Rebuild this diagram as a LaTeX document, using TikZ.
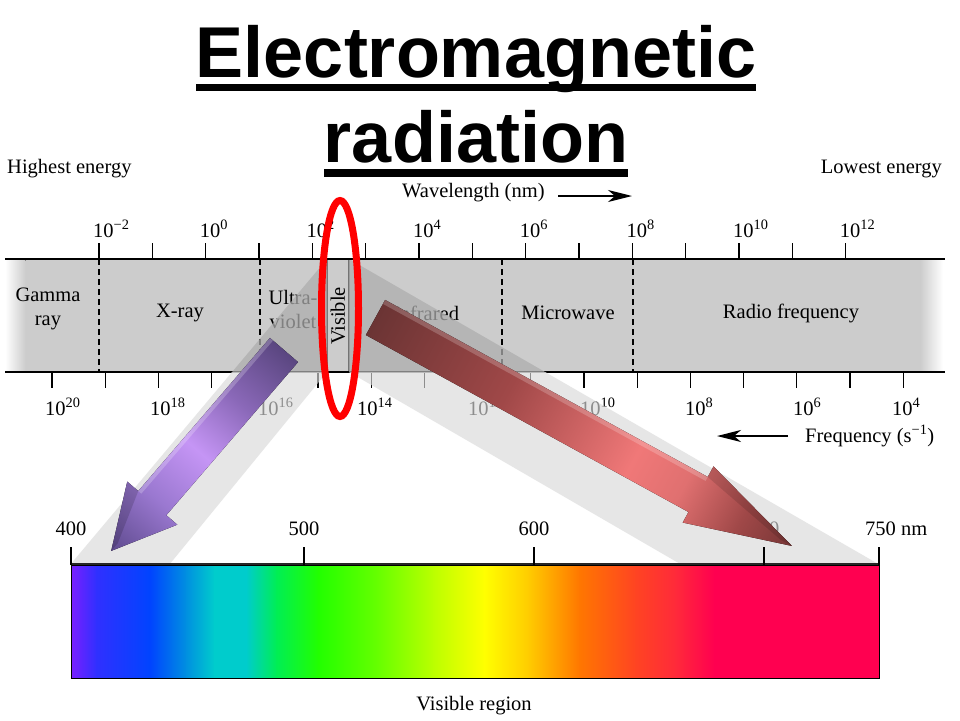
\documentclass[tikz,border=0pt]{standalone}
\usepackage{fontspec}
\setmainfont{Liberation Serif}
\newfontfamily\titlefont{Liberation Sans}
\usetikzlibrary{arrows.meta}
\definecolor{bandgray}{gray}{0.8}
\definecolor{s0}{HTML}{7A1FFF}
\definecolor{s1}{HTML}{3030FF}
\definecolor{s2}{HTML}{0044FF}
\definecolor{s3}{HTML}{0090E0}
\definecolor{s4}{HTML}{00CCCC}
\definecolor{s5}{HTML}{00CCCC}
\definecolor{s6}{HTML}{00EE55}
\definecolor{s7}{HTML}{22FF00}
\definecolor{s8}{HTML}{66FF00}
\definecolor{s9}{HTML}{BBFF00}
\definecolor{s10}{HTML}{FFFF00}
\definecolor{s11}{HTML}{FFCC00}
\definecolor{s12}{HTML}{FF7700}
\definecolor{s13}{HTML}{FF4422}
\definecolor{s14}{HTML}{FF2A3A}
\definecolor{s15}{HTML}{FF0050}
\definecolor{purpA}{HTML}{5A4680}
\definecolor{purpM}{HTML}{8A68B8}
\definecolor{purpB}{HTML}{C595F5}
\definecolor{purpD}{HTML}{9A78D0}
\definecolor{purpC}{HTML}{5E4A8E}
\definecolor{redA}{HTML}{6B3434}
\definecolor{redM}{HTML}{A04848}
\definecolor{redB}{HTML}{F07878}
\definecolor{redD}{HTML}{E07070}
\definecolor{redE}{HTML}{A04848}
\definecolor{redC}{HTML}{773636}
\pgfdeclarehorizontalshading{purpshade}{100bp}{color(0bp)=(purpA); color(25bp)=(purpA); color(38bp)=(purpM); color(50bp)=(purpB); color(62bp)=(purpD); color(75bp)=(purpC); color(100bp)=(purpC)}
\pgfdeclarehorizontalshading{redshade}{100bp}{color(0bp)=(redA); color(25bp)=(redA); color(41bp)=(redM); color(56bp)=(redB); color(62bp)=(redD); color(69bp)=(redE); color(75bp)=(redC); color(100bp)=(redC)}
\begin{document}
\begin{tikzpicture}[x=1pt,y=-1pt,
  lbl/.style={inner sep=0pt, font=\fontsize{20.5}{24}\selectfont},
  tk/.style={line width=1.3pt},
  sep/.style={line width=1.8pt, dash pattern=on 6pt off 4pt},
  axarrow/.style={line width=1.5pt, -{Stealth[length=24pt,width=12pt,inset=7pt]}},
  wedgedark/.style={fill=black!32, opacity=0.74},
  wedgelight/.style={fill=black!15, opacity=0.65}]
\useasboundingbox (0,0) rectangle (960,720);
\fill[white] (0,0) rectangle (960,720);

% ---- title ----
\node[anchor=base, inner sep=0pt, font=\titlefont\bfseries\fontsize{72}{80}\selectfont] (title1) at (476,77) {Electromagnetic};
\node[anchor=base, inner sep=0pt, font=\titlefont\bfseries\fontsize{72}{80}\selectfont] (title2) at (476,162) {radiation};
\fill[black] (196,83.5) rectangle (756,91);
\fill[black] (323.5,169) rectangle (628,177);

% ---- top texts ----
\node[lbl, anchor=base west] (hi) at (7,173) {Highest energy};
\node[lbl, anchor=base east] (lo) at (942,173) {Lowest energy};
\node[lbl, anchor=base west] (wl) at (402,197) {Wavelength (nm)};
\coordinate (wla) at (558,196);
\coordinate (wlb) at (632,196);
\draw[axarrow] (wla) -- (wlb);

% ---- band ----
\fill[bandgray] (25,260) rectangle (920,372);
\fill[left color=white, right color=bandgray] (5,260) rectangle (25.5,372);
\fill[left color=bandgray, right color=white] (920,260) rectangle (943,372);
\draw[line width=2pt] (5,259) -- (945,259);
\draw[line width=2pt] (5,372) -- (945,372);

\foreach \k in {0,...,14}{
  \draw[tk] ({99+53.33*\k},243) -- ({99+53.33*\k},259);
}
\foreach \k/\e in {0/−2,2/0,4/2,6/4,8/6,10/8,12/10,14/12}{
  \node[lbl, anchor=base west] (wt\k) at ({93+53.33*\k},237) {10\textsuperscript{\e}};
}
\foreach \k in {0,...,16}{
  \draw[tk] ({52+53.2*\k},372) -- ({52+53.2*\k},388);
}
\foreach \s/\e in {45/20,150/18,258/16,357/14,468/12,580/10,685/8,793/6,892/4}{
  \node[lbl, anchor=base west] (fq\e) at (\s,415) {10\textsuperscript{\e}};
}
\foreach \xx in {99,260,502,633}{
  \draw[sep] (\xx,259) -- (\xx,372);
}

\node[lbl, align=center] (gamma) at (48,309) {Gamma\\ray};
\node[lbl] (xray) at (180,313) {X-ray};
\node[lbl, align=center] (uv) at (293,309) {Ultra-\\violet};
\node[lbl] (ir) at (426,313) {Infrared};
\node[lbl] (mw) at (568,313) {Microwave};
\node[lbl] (radio) at (791,313) {Radio frequency};
\draw[black!55, line width=1.2pt] (327,260) -- (327,371);
\draw[black!55, line width=1.2pt] (349,260) -- (349,371);
\node[lbl, rotate=90] (vis) at (338,316) {Visible};

\node[lbl, anchor=base west] (freq) at (805,442) {Frequency (s\textsuperscript{−1})};
\coordinate (fra) at (788,436);
\coordinate (frb) at (717,436);
\draw[axarrow] (fra) -- (frb);

% ---- spectrum labels (under the wedges) ----
\node[lbl, anchor=base] (n400) at (71,535) {400};
\node[lbl, anchor=base] (n500) at (304,535) {500};
\node[lbl, anchor=base] (n600) at (534,535) {600};
\node[lbl, anchor=base] (n700) at (764,535) {700};
\node[lbl, anchor=base west] (n750) at (865,535) {750 nm};

% ---- projection wedges ----
\begin{scope}
  \clip (0,260) rectangle (960,372);
  \path[wedgedark] (327,259) -- (70,565) -- (169,565) -- (327,372) -- cycle;
  \path[wedgedark] (349,259) -- (880,565) -- (682,565) -- (349,372) -- cycle;
\end{scope}
\begin{scope}
  \clip (0,372) rectangle (960,565);
  \path[wedgelight] (327,259) -- (70,565) -- (169,565) -- (327,372) -- cycle;
  \path[wedgelight] (349,259) -- (880,565) -- (682,565) -- (349,372) -- cycle;
\end{scope}

% ---- spectrum bar ----
\foreach \xa/\xb/\ca/\cb in {71/96/s0/s1, 96/150/s1/s2, 150/186/s2/s3, 186/214/s3/s4,
  214/246/s4/s5, 246/276/s5/s6, 276/318/s6/s7, 318/377/s7/s8, 377/433/s8/s9,
  433/484/s9/s10, 484/528/s10/s11, 528/579/s11/s12, 579/635/s12/s13,
  635/675/s13/s14, 675/714/s14/s15, 714/879/s15/s15}{
  \fill[left color=\ca, right color=\cb] (\xa,565) rectangle (\xb+0.7,678);
}
\draw[line width=1pt] (71,565) rectangle (879,678);
\draw[line width=2.2pt, black!85] (71,564) -- (879,564);
\foreach \xx in {71,304,534,764,879}{
  \draw[tk] (\xx,547) -- (\xx,565);
}
\node[lbl, anchor=base] (visreg) at (474,710) {Visible region};

% ---- purple arrow ----
\begin{scope}[transform canvas={shift={(284,350)}, rotate=229.3}]
  \fill[shading=purpshade, shading angle=0]
    (0,-18.5) -- (202,-18.5) -- (202,-33) -- (265,0) -- (202,33) -- (202,18.5) -- (0,18.5) -- cycle;
  \fill[white, opacity=0.22] (0,14.5) -- (202,14.5) -- (202,18.5) -- (0,18.5) -- cycle;
  \fill[black, opacity=0.15] (202,18.5) -- (202,33) -- (265,0) -- (255,0) -- cycle;
\end{scope}

% ---- red arrow ----
\begin{scope}[transform canvas={shift={(375.5,317.5)}, rotate=-28.75}]
  \fill[shading=redshade, shading angle=0]
    (0,-20) -- (368,-20) -- (368,-32) -- (475,0) -- (368,32) -- (368,20) -- (0,20) -- cycle;
  \fill[white, opacity=0.2] (0,-20) -- (368,-20) -- (368,-15.5) -- (0,-15.5) -- cycle;
  \fill[black, opacity=0.12] (368,-20) -- (368,-32) -- (475,0) -- (462,0) -- cycle;
\end{scope}

% ---- red ellipse ----
\draw[red, line width=7pt] (340,308.5) ellipse [x radius=18.5, y radius=108];
\end{tikzpicture}
\end{document}
